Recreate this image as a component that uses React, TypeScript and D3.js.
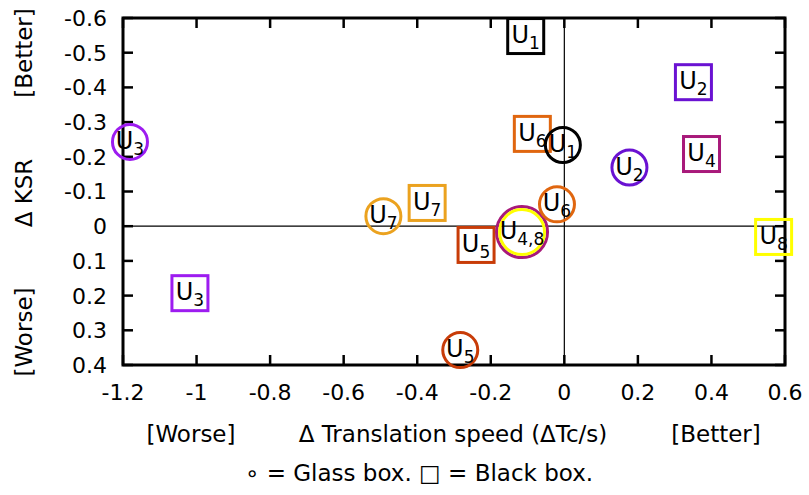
import React, { useRef, useEffect } from 'react';
import * as d3 from 'd3';

// Glass box users (circles)
const glassUsers = ['3', '7', '5', '4,8', '6', '1', '2'];
const glassX = [-1.181, -0.492, -0.283, -0.115, -0.02, -0.004, 0.177];
const glassY = [-0.243, -0.029, 0.357, 0.017, -0.063, -0.234, -0.169];
const glassColors = ['#9d1cf0', '#eba21f', '#c83c08', '#a8197a', '#e0660f', '#000000', '#6a12d2'];

// Black box users (squares)
const blackUsers = ['1', '6', '7', '5', '3', '2', '4', '8'];
const blackX = [-0.105, -0.087, -0.373, -0.24, -1.018, 0.351, 0.373, 0.569];
const blackY = [-0.548, -0.266, -0.067, 0.054, 0.193, -0.415, -0.208, 0.031];
const blackColors = ['#000000', '#e0660f', '#eba21f', '#c83c08', '#9d1cf0', '#6a12d2', '#a8197a', '#ffff00'];

const xTicks = [-1.2, -1, -0.8, -0.6, -0.4, -0.2, 0, 0.2, 0.4, 0.6];
const yTicks = [-0.6, -0.5, -0.4, -0.3, -0.2, -0.1, 0, 0.1, 0.2, 0.3, 0.4];

const width = 809;
const height = 495;
const font = 'DejaVu Sans, sans-serif';

const App = () => {
    const svgRef = useRef<SVGSVGElement>(null);

    useEffect(() => {
        const svg = d3.select(svgRef.current);
        svg.selectAll('*').remove();

        const marginLeft = 123;
        const marginRight = 24;
        const marginTop = 18;
        const plotBottom = 365;

        const x = d3.scaleLinear().domain([-1.2, 0.6]).range([marginLeft, width - marginRight]);
        const y = d3.scaleLinear().domain([-0.6, 0.4]).range([marginTop, plotBottom]);

        // zero lines
        svg.append('line')
            .attr('x1', x(-1.2)).attr('x2', x(0.6))
            .attr('y1', y(0)).attr('y2', y(0))
            .attr('stroke', '#000').attr('stroke-width', 1.2);
        svg.append('line')
            .attr('x1', x(0)).attr('x2', x(0))
            .attr('y1', y(-0.6)).attr('y2', y(0.4))
            .attr('stroke', '#000').attr('stroke-width', 1.2);

        // ticks on all four sides, pointing inward
        const tickLen = 10;
        const ticks = svg.append('g').attr('stroke', '#000').attr('stroke-width', 2.5);
        xTicks.forEach(t => {
            ticks.append('line').attr('x1', x(t)).attr('x2', x(t)).attr('y1', plotBottom).attr('y2', plotBottom - tickLen);
            ticks.append('line').attr('x1', x(t)).attr('x2', x(t)).attr('y1', marginTop).attr('y2', marginTop + tickLen);
        });
        yTicks.forEach(t => {
            ticks.append('line').attr('x1', marginLeft).attr('x2', marginLeft + tickLen).attr('y1', y(t)).attr('y2', y(t));
            ticks.append('line').attr('x1', width - marginRight).attr('x2', width - marginRight - tickLen).attr('y1', y(t)).attr('y2', y(t));
        });

        // frame
        svg.append('rect')
            .attr('x', marginLeft).attr('y', marginTop)
            .attr('width', x(0.6) - x(-1.2)).attr('height', plotBottom - marginTop)
            .attr('fill', 'none').attr('stroke', '#000').attr('stroke-width', 3);

        // tick labels
        const fmt = (d: number) => String(d);
        svg.append('g')
            .selectAll('text')
            .data(xTicks)
            .join('text')
            .attr('x', d => x(d))
            .attr('y', 400)
            .attr('text-anchor', 'middle')
            .attr('font-family', font)
            .attr('font-size', 22)
            .text(fmt);
        svg.append('g')
            .selectAll('text')
            .data(yTicks)
            .join('text')
            .attr('x', 107)
            .attr('y', d => y(d))
            .attr('dy', '0.36em')
            .attr('text-anchor', 'end')
            .attr('font-family', font)
            .attr('font-size', 22)
            .text(fmt);

        // markers
        const marks = svg.append('g').attr('fill', 'none').attr('stroke-width', 3);
        blackUsers.forEach((u, i) => {
            marks.append('rect')
                .attr('x', x(blackX[i]) - 18).attr('y', y(blackY[i]) - 17.5)
                .attr('width', 36).attr('height', 35)
                .attr('stroke', blackColors[i]);
        });
        glassUsers.forEach((u, i) => {
            if (u === '4,8') {
                marks.append('circle').attr('cx', x(glassX[i])).attr('cy', y(glassY[i])).attr('r', 25.5).attr('stroke', glassColors[i]);
                marks.append('circle').attr('cx', x(glassX[i])).attr('cy', y(glassY[i])).attr('r', 22.5).attr('stroke', '#ffff00');
            } else {
                marks.append('circle').attr('cx', x(glassX[i])).attr('cy', y(glassY[i])).attr('r', 17.5).attr('stroke', glassColors[i]);
            }
        });

        // labels inside markers
        const addLabel = (u: string, px: number, py: number) => {
            const t = svg.append('text')
                .attr('x', px).attr('y', py + 7)
                .attr('text-anchor', 'middle')
                .attr('font-family', font)
                .attr('font-size', 24)
                .attr('fill', '#000');
            t.append('tspan').text('U');
            t.append('tspan').attr('dy', 6).attr('font-size', 17).text(u);
        };
        blackUsers.forEach((u, i) => addLabel(u, x(blackX[i]), y(blackY[i])));
        glassUsers.forEach((u, i) => addLabel(u, x(glassX[i]), y(glassY[i])));

        // x axis labels
        const xl = svg.append('g').attr('font-family', font).attr('font-size', 23).attr('text-anchor', 'middle');
        xl.append('text').attr('x', 191).attr('y', 442).text('[Worse]');
        xl.append('text').attr('x', 453).attr('y', 442).text('Δ Translation speed (ΔTc/s)');
        xl.append('text').attr('x', 716).attr('y', 442).text('[Better]');

        // y axis labels
        const yl = svg.append('g').attr('font-family', font).attr('font-size', 23).attr('text-anchor', 'middle');
        [['[Better]', 53], ['Δ KSR', 193], ['[Worse]', 332]].forEach(([s, cy]) => {
            yl.append('text')
                .attr('transform', `translate(32,${cy}) rotate(-90)`)
                .text(s as string);
        });

        // legend
        svg.append('text')
            .attr('x', 419).attr('y', 481)
            .attr('text-anchor', 'middle')
            .attr('font-family', font)
            .attr('font-size', 23)
            .text('∘ = Glass box. □ = Black box.');
    }, []);

    return (
        <svg
            ref={svgRef}
            width={width}
            height={height}
            style={{ position: 'absolute', left: 0, top: 0, background: '#fff' }}
        ></svg>
    );
};

export default App;
